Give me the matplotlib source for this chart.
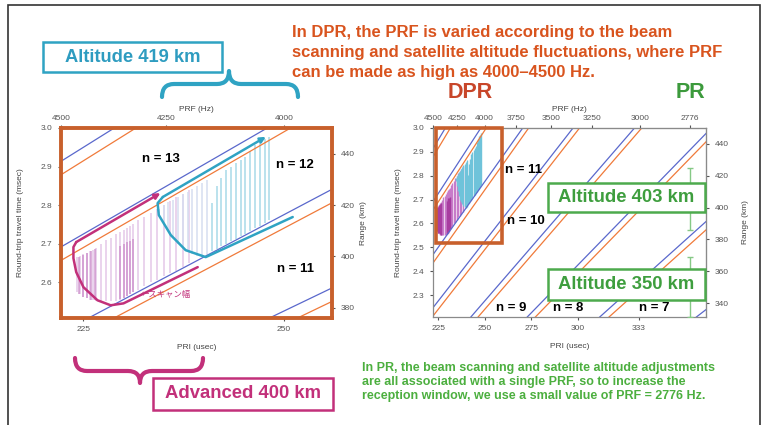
import numpy as np
import matplotlib
matplotlib.use('Agg')
import matplotlib.pyplot as plt
from matplotlib.patches import Rectangle, PathPatch
from matplotlib.path import Path

plt.rcParams['font.family'] = ['Liberation Sans', 'DejaVu Sans']

# ---------------- data ----------------
# ambiguity orders of the transmit-blanking lines (t = n * PRI + offset)
n_left = [10, 11, 12, 13]
n_right = [6, 7, 8, 9, 10, 11, 12, 13]
offset_orange = -0.010   # msec
offset_blue = 0.025      # msec

# magenta (Advanced 400 km) reception windows: PRI (usec), bottom / top (msec)
mag_pri = [224.2, 224.6, 225.0, 225.4, 225.8, 226.2, 226.6, 227.2, 227.8, 228.4,
           229.0, 229.6, 230.0, 230.4, 230.8, 231.2, 231.8, 232.6, 233.4, 234.2,
           235.0, 235.8, 236.6, 237.4, 238.2]
mag_bot = [2.575, 2.568, 2.562, 2.558, 2.555, 2.553, 2.552, 2.550, 2.550, 2.550,
           2.550, 2.555, 2.560, 2.565, 2.570, 2.575, 2.580, 2.590, 2.600, 2.605,
           2.615, 2.625, 2.630, 2.640, 2.650]
mag_top = [2.665, 2.668, 2.672, 2.676, 2.680, 2.684, 2.688, 2.700, 2.710, 2.715,
           2.725, 2.730, 2.735, 2.740, 2.745, 2.750, 2.760, 2.770, 2.780, 2.790,
           2.800, 2.810, 2.820, 2.830, 2.840]
magdark_pri = [224.4, 224.9, 225.4, 225.9, 226.4, 229.6, 230.0, 230.4, 230.8, 231.2]
magdark_bot = [2.570, 2.562, 2.558, 2.555, 2.553, 2.556, 2.560, 2.565, 2.570, 2.575]
magdark_top = [2.665, 2.670, 2.676, 2.682, 2.686, 2.695, 2.700, 2.705, 2.708, 2.712]

# cyan (Altitude 419 km) reception windows
cyan_pri = [234.4, 235.0, 235.6, 236.2, 236.8, 237.4, 238.0, 238.6, 239.2, 239.8,
            240.4, 241.0, 241.6, 242.2, 242.8, 243.4, 244.0, 244.6, 245.2, 245.8,
            246.4, 247.0, 247.6, 248.2]
cyan_bot = [2.780, 2.755, 2.735, 2.715, 2.700, 2.690, 2.680, 2.672, 2.668, 2.666,
            2.670, 2.680, 2.686, 2.693, 2.700, 2.706, 2.713, 2.720, 2.726, 2.733,
            2.740, 2.746, 2.753, 2.760]
cyan_top = [2.790, 2.800, 2.807, 2.814, 2.820, 2.830, 2.835, 2.843, 2.850, 2.857,
            2.865, 2.805, 2.850, 2.870, 2.890, 2.900, 2.908, 2.918, 2.925, 2.940,
            2.955, 2.965, 2.972, 2.977]
cyan_pale_count = 11

# scan paths (PRI usec, time msec)
mag_path_pri = [239.25, 230.0, 228.4, 226.75, 225.0, 224.1, 223.75, 223.75, 224.1, 234.6]
mag_path_t = [2.639, 2.545, 2.540, 2.553, 2.587, 2.626, 2.662, 2.691, 2.704, 2.831]
cyan_path_pri = [251.1, 240.25, 237.75, 235.9, 234.4, 234.25, 234.9, 247.75]
cyan_path_t = [2.769, 2.665, 2.683, 2.722, 2.774, 2.805, 2.821, 2.977]

# PR (TRMM) single PRF and its reception windows
pr_prf = 2776.0
pr_windows = [(2.573, 2.833), (2.208, 2.460)]

# tick labels
left_xticks = [225, 250]
right_xticks = [225, 250, 275, 300, 333]
left_prf_ticks = [4500, 4250, 4000]
right_prf_ticks = [4500, 4250, 4000, 3750, 3500, 3250, 3000, 2776]
left_yticks = [2.6, 2.7, 2.8, 2.9, 3.0]
right_yticks = [2.3, 2.4, 2.5, 2.6, 2.7, 2.8, 2.9, 3.0]
left_rticks = [380, 400, 420, 440]
right_rticks = [340, 360, 380, 400, 420, 440]

# ---------------- styles ----------------
W, H = 766, 425
ORANGE_LINE = '#F07A3A'
BLUE_LINE = '#5A68CC'
FRAME_OR = '#C8602C'
TITLE_C = '#D9541E'
CYAN = '#2FA3C3'
MAG = '#C2307A'
GREEN = '#3E9E3E'
GREEN_BOX = '#4DAA4D'
TICK_C = '#555555'

fig = plt.figure(figsize=(W / 100, H / 100), dpi=100)


def fx(x):
    return x / W


def fy(y):
    return 1 - y / H


def prf_fwd(p):
    p = np.asarray(p, dtype=float)
    with np.errstate(divide='ignore', invalid='ignore'):
        return 1e6 / p


def make_axes(x0, x1, y0, y1, xlim, ylim):
    ax = fig.add_axes([fx(x0), fy(y1), (x1 - x0) / W, (y1 - y0) / H])
    ax.set_xlim(*xlim)
    ax.set_ylim(*ylim)
    ax.tick_params(labelsize=6, colors=TICK_C, length=2.5, width=0.8)
    return ax


def style_secondary(ax, xt_prf, rticks, frame_color, rpad):
    top = ax.secondary_xaxis('top', functions=(prf_fwd, prf_fwd))
    top.set_xticks(xt_prf)
    top.set_xticklabels([str(v) for v in xt_prf])
    top.tick_params(labelsize=6, colors=TICK_C, length=2.5, width=0.8, pad=1.5)
    top.set_xlabel('PRF (Hz)', fontsize=6, color='#444444', labelpad=3)
    right = ax.secondary_yaxis('right', functions=(lambda t: 150 * np.asarray(t),
                                                    lambda r: np.asarray(r) / 150))
    right.set_yticks(rticks)
    right.tick_params(labelsize=6, colors=TICK_C, length=2.5, width=0.8)
    right.set_ylabel('Range (km)', fontsize=6, color='#444444', labelpad=rpad)
    for s in (top, right):
        for sp in s.spines.values():
            sp.set_color(frame_color)
    return top, right


def draw_lines(ax, ns, xlim):
    p = np.array(xlim)
    for n in ns:
        ax.plot(p, n * p / 1000 + offset_blue, color=BLUE_LINE, lw=0.9, zorder=2)
        ax.plot(p, n * p / 1000 + offset_orange, color=ORANGE_LINE, lw=0.9, zorder=2)


# ---------------- left chart ----------------
xl_left = (222.2, 256.0)
axL = make_axes(61, 332, 128, 318, xl_left, (2.507, 3.0))
draw_lines(axL, n_left, xl_left)
axL.vlines(mag_pri, mag_bot, mag_top, color='#E4C8E8', lw=1.1, zorder=1)
axL.vlines(magdark_pri, magdark_bot, magdark_top, color='#C985C6', lw=1.1, zorder=1, alpha=0.8)
axL.vlines(cyan_pri[:cyan_pale_count], cyan_bot[:cyan_pale_count], cyan_top[:cyan_pale_count],
           color='#D6DEF0', lw=1.1, zorder=1)
axL.vlines(cyan_pri[cyan_pale_count:], cyan_bot[cyan_pale_count:], cyan_top[cyan_pale_count:],
           color='#A8DAE8', lw=1.1, zorder=1)
axL.plot(mag_path_pri[:-1], mag_path_t[:-1], color=MAG, lw=1.8, zorder=4,
         solid_capstyle='round', solid_joinstyle='round')
axL.annotate('', xy=(mag_path_pri[-1], mag_path_t[-1]),
             xytext=(mag_path_pri[-2], mag_path_t[-2]),
             arrowprops=dict(arrowstyle='-|>', color=MAG, lw=1.8, mutation_scale=8,
                             shrinkA=0, shrinkB=0), zorder=4)
axL.plot(cyan_path_pri[:-1], cyan_path_t[:-1], color=CYAN, lw=1.8, zorder=4,
         solid_capstyle='round', solid_joinstyle='round')
axL.annotate('', xy=(cyan_path_pri[-1], cyan_path_t[-1]),
             xytext=(cyan_path_pri[-2], cyan_path_t[-2]),
             arrowprops=dict(arrowstyle='-|>', color=CYAN, lw=1.8, mutation_scale=8,
                             shrinkA=0, shrinkB=0), zorder=4)
axL.set_xticks(left_xticks)
axL.set_yticks(left_yticks)
axL.set_yticklabels(['%.1f' % v for v in left_yticks])
axL.set_xlabel('PRI (usec)', fontsize=6, color='#444444', labelpad=8)
axL.set_ylabel('Round-trip travel time (msec)', fontsize=6, color='#444444', labelpad=12)
for sp in axL.spines.values():
    sp.set_color(FRAME_OR)
    sp.set_linewidth(2.8)
style_secondary(axL, left_prf_ticks, left_rticks, FRAME_OR, 4)
axL.text(234.7, 2.92, 'n = 13', fontsize=9.5, fontweight='bold', ha='center', va='center')
axL.text(251.4, 2.905, 'n = 12', fontsize=9.5, fontweight='bold', ha='center', va='center')
axL.text(251.4, 2.635, 'n = 11', fontsize=9.5, fontweight='bold', ha='center', va='center')
axL.text(235.3, 2.567, '←スキャン幅', fontsize=6, color=MAG, ha='center', va='center',
         family=['Noto Sans CJK JP', 'DejaVu Sans'])

# ---------------- right chart ----------------
xl_right = (222.2, 369.0)
axR = make_axes(433, 706, 128, 317, xl_right, (2.208, 3.0))
draw_lines(axR, n_right, xl_right)
axR.vlines(mag_pri, mag_bot, mag_top, color='#C77BC9', lw=1.0, zorder=1)
axR.vlines(magdark_pri, magdark_bot, magdark_top, color='#A83DA0', lw=1.0, zorder=1)
axR.vlines(cyan_pri, cyan_bot, cyan_top, color='#6FC3DA', lw=1.0, zorder=1)
axR.add_patch(Rectangle((223.9, 2.518), 35.2, 0.482, fill=False, ec=FRAME_OR, lw=2.6,
                        zorder=5, clip_on=False))
pr_pri = 1e6 / pr_prf
for lo, hi in pr_windows:
    axR.errorbar([pr_pri], [(lo + hi) / 2], yerr=[[(hi - lo) / 2], [(hi - lo) / 2]],
                 fmt='none', ecolor='#86C986', elinewidth=1.0, capsize=2, zorder=3)
axR.set_xticks(right_xticks)
axR.set_yticks(right_yticks)
axR.set_yticklabels(['%.1f' % v for v in right_yticks])
axR.set_xlabel('PRI (usec)', fontsize=6, color='#444444', labelpad=8)
axR.set_ylabel('Round-trip travel time (msec)', fontsize=6, color='#444444', labelpad=8)
for sp in axR.spines.values():
    sp.set_color('#8A8A8A')
    sp.set_linewidth(0.9)
style_secondary(axR, right_prf_ticks, right_rticks, '#8A8A8A', 10)
for x, y, s in [(271, 2.825, 'n = 11'), (272, 2.61, 'n = 10'), (264, 2.245, 'n = 9'),
                (295, 2.245, 'n = 8'), (341, 2.245, 'n = 7')]:
    axR.text(x, y, s, fontsize=9.5, fontweight='bold', ha='center', va='center', zorder=6)

# ---------------- figure annotations ----------------
fig.patches.append(Rectangle((fx(8), fy(430)), (760 - 8) / W, (430 - 5) / H,
                             transform=fig.transFigure, fill=False, ec='#333333', lw=1.2))

title_lines = ['In DPR, the PRF is varied according to the beam',
               'scanning and satellite altitude fluctuations, where PRF',
               'can be made as high as 4000\u20134500 Hz.']
for i, line in enumerate(title_lines):
    fig.text(fx(292), fy(33 + 19.5 * i), line, fontsize=12, fontweight='bold',
             color=TITLE_C, ha='left', va='center')

green_lines = ['In PR, the beam scanning and satellite altitude adjustments',
               'are all associated with a single PRF, so to increase the',
               'reception window, we use a small value of PRF = 2776 Hz.']
for i, line in enumerate(green_lines):
    fig.text(fx(362), fy(368 + 14 * i), line, fontsize=9, fontweight='bold',
             color='#4CAF3F', ha='left', va='center')


def box(x0, y0, x1, y1, text, color, tcolor, fs):
    fig.patches.append(Rectangle((fx(x0), fy(y1)), (x1 - x0) / W, (y1 - y0) / H,
                                 transform=fig.transFigure, fc='white', ec=color,
                                 lw=1.8, zorder=8))
    fig.text(fx((x0 + x1) / 2), fy((y0 + y1) / 2), text, fontsize=fs, fontweight='bold',
             color=tcolor, ha='center', va='center', zorder=9)


box(43, 42, 222, 72, 'Altitude 419 km', CYAN, '#2E9CC0', 13.2)
box(153, 378, 333, 410, 'Advanced 400 km', MAG, MAG, 13.3)
box(548, 183, 705, 212, 'Altitude 403 km', GREEN_BOX, GREEN, 13.3)
box(548, 269, 705, 300, 'Altitude 350 km', GREEN_BOX, GREEN, 13.3)

fig.text(fx(470), fy(93), 'DPR', fontsize=15.5, fontweight='bold', color='#C8462A',
         ha='center', va='center')
fig.text(fx(690), fy(93), 'PR', fontsize=15.5, fontweight='bold', color='#3C9A3C',
         ha='center', va='center')


def brace(x0, x1, xm, y_end, y_body, y_tip, r, color, lw):
    pts = [(x0, y_end), (x0, y_body), (x0 + r, y_body), (xm - r, y_body), (xm, y_body),
           (xm, y_tip), (xm, y_body), (xm + r, y_body), (x1 - r, y_body), (x1, y_body),
           (x1, y_end)]
    codes = [Path.MOVETO, Path.CURVE3, Path.CURVE3, Path.LINETO, Path.CURVE3, Path.CURVE3,
             Path.CURVE3, Path.CURVE3, Path.LINETO, Path.CURVE3, Path.CURVE3]
    verts = [(fx(x), fy(y)) for x, y in pts]
    fig.patches.append(PathPatch(Path(verts, codes), transform=fig.transFigure,
                                 fill=False, ec=color, lw=lw, capstyle='round',
                                 joinstyle='round', zorder=7))


brace(162, 298, 229, 97, 84, 71, 12, CYAN, 3)
brace(75, 203, 140, 358, 371, 383, 12, MAG, 3)

fig.savefig('out.png', dpi=100)
